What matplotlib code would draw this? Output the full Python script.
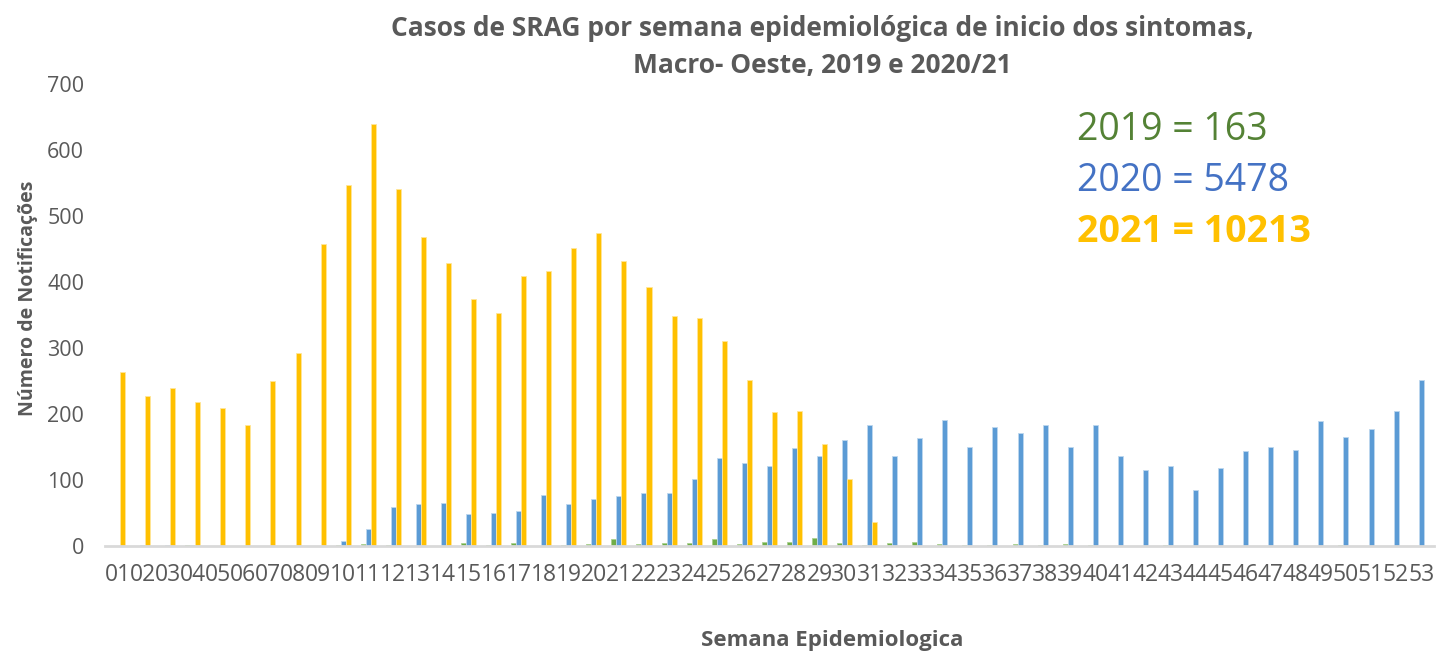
import numpy as np
import matplotlib
matplotlib.use('Agg')
import matplotlib.pyplot as plt

plt.rcParams['font.family'] = ['Open Sans', 'DejaVu Sans']

# semanas epidemiologicas 01..53
semanas = ['%02d' % i for i in range(1, 54)]

casos_2019 = [0, 0, 0, 1, 0, 0, 0, 0, 0, 1,
              3, 1, 0, 0, 4, 1, 5, 0, 2, 3,
              11, 3, 5, 5, 11, 3, 6, 6, 13, 5,
              1, 5, 6, 3, 1, 2, 3, 1, 3, 1,
              0, 0, 1, 0, 0, 0, 0, 0, 0, 1,
              0, 0, 0]

casos_2020 = [0, 1, 2, 2, 0, 0, 0, 0, 0, 7,
              26, 59, 63, 66, 48, 50, 53, 78, 64, 72,
              76, 81, 80, 102, 134, 126, 122, 149, 136, 160,
              184, 137, 163, 191, 150, 181, 171, 184, 150, 184,
              137, 115, 122, 85, 119, 144, 150, 146, 189, 166,
              178, 204, 251]

casos_2021 = [263, 228, 239, 219, 209, 184, 250, 293, 457, 547,
              640, 541, 468, 429, 374, 353, 409, 416, 451, 475,
              432, 393, 349, 346, 310, 252, 203, 204, 155, 101,
              36, 0, 0, 0, 0, 0, 0, 0, 0, 0,
              0, 0, 0, 0, 0, 0, 0, 0, 0, 0,
              0, 0, 0]

totais = ['2019 = 163', '2020 = 5478', '2021 = 10213']

cinza = '#595959'
fig = plt.figure(figsize=(14.38, 6.54), dpi=100)
ax = fig.add_axes([0.073, 0.165, 0.924, 0.7066])

x = np.arange(len(semanas))
w = 0.2
ax.bar(x - w, casos_2019, w, color='#70AD47', edgecolor='#A9D18E', linewidth=0.6)
ax.bar(x, casos_2020, w, color='#5B9BD5', edgecolor='#BDD7EE', linewidth=0.6)
ax.bar(x + w, casos_2021, w, color='#FFC000', edgecolor='#FFE699', linewidth=0.6)

ax.set_xlim(-0.5, len(semanas) - 0.5)
ax.set_ylim(0, 700)
ax.set_yticks(range(0, 701, 100))
ax.set_xticks(x)
ax.set_xticklabels(semanas)
ax.tick_params(axis='both', length=0, colors=cinza, labelsize=15.5)
ax.tick_params(axis='x', labelsize=16.5, pad=12)
ax.tick_params(axis='y', pad=15)
for s in ['top', 'right', 'left']:
    ax.spines[s].set_visible(False)
ax.spines['bottom'].set_color('#D9D9D9')
ax.spines['bottom'].set_linewidth(2)

# titulos dos eixos
fig.text(0.0195, 0.544, 'Número de Notificações', rotation=90, ha='center', va='center',
         fontsize=14, fontweight='bold', color=cinza)
fig.text(0.579, 0.021, 'Semana Epidemiologica', ha='center', va='center',
         fontsize=16, fontweight='bold', color=cinza)

fig.text(0.572, 0.957, 'Casos de SRAG por semana epidemiológica de inicio dos sintomas,',
         ha='center', va='center', fontsize=19, fontweight='bold', color=cinza)
fig.text(0.572, 0.900, 'Macro- Oeste, 2019 e 2020/21',
         ha='center', va='center', fontsize=19, fontweight='bold', color=cinza)

cores_txt = ['#548235', '#4472C4', '#FFC000']
pesos = ['normal', 'normal', 'bold']
ys = [0.801, 0.723, 0.645]
for t, c, p, yy in zip(totais, cores_txt, pesos, ys):
    fig.text(0.749, yy, t, ha='left', va='center', fontsize=27, color=c, fontweight=p)

fig.savefig('out.png', dpi=100)
